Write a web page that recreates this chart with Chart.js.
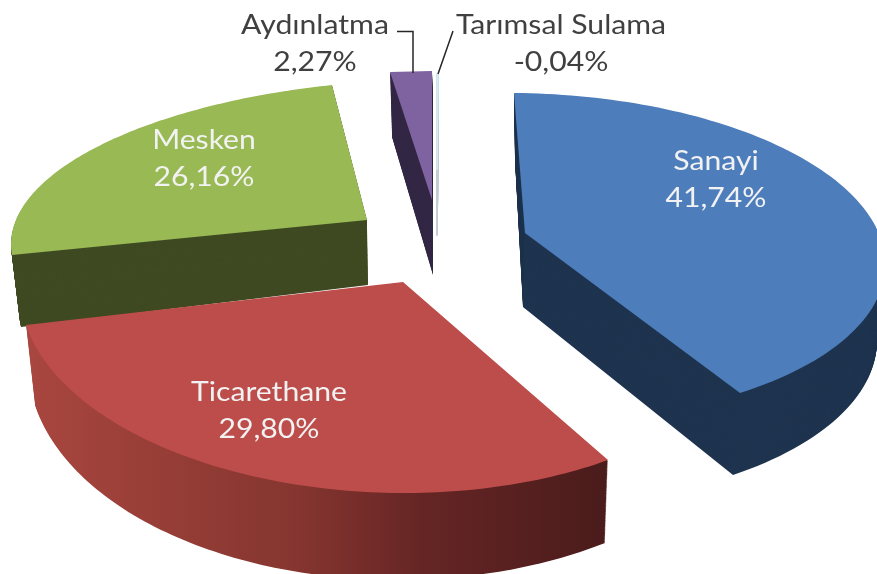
<!DOCTYPE html>
<html lang="tr">
<head>
    <meta charset="UTF-8" />
    <title>Elektrik tüketimi</title>
    <script src="https://cdn.jsdelivr.net/npm/chart.js"></script>
    <style>
        body { margin: 0; background: #ffffff; }
        canvas { display: block; filter: blur(0.5px); }
    </style>
</head>
<body>
<canvas id="grafik" width="877" height="574"></canvas>

<script>
    // veriler
    const kategoriler = ["Sanayi", "Ticarethane", "Mesken", "Aydınlatma", "Tarımsal Sulama"];
    const degerler = [41.74, 29.80, 26.16, 2.27, -0.04];

    // renkler
    const ustRenkler = ["#4d7ebb", "#bd4d4a", "#98b954", "#7f63a1", "#d4ecf6"];
    const yanRenkler = ["#1f344f", "#4a1c1b", "#3f4a22", "#332845", "#c6cdd2"];

    // 3B görünüm: her dilimin üst ve alt yüzü için [tepe, başlangıç, bitiş, orta] noktaları
    // ince dilimlerde orta nokta yok, üçgen olarak çiziliyor
    const ustYuz = [
        [[525, 233], [514, 93], [740, 393], [852, 195]],
        [[403, 282], [608, 460], [26, 325], [252, 476]],
        [[367, 220], [12, 255], [332, 85], [93, 149]],
        [[432, 200], [390, 72], [432, 71]],
        [[437, 170], [437, 74], [438, 74]]
    ];
    const altYuz = [
        [[523, 307], [515, 160], [733, 475], [846, 270]],
        [[403, 350], [605, 543], [35, 405], [254, 563]],
        [[368, 285], [21, 327], [335, 150], [98, 219]],
        [[433, 275], [392, 137], [433, 137]],
        [[437, 236], [437, 140], [438, 140]]
    ];
    const cizimSirasi = [2, 3, 4, 0, 1];

    // etiket konumları
    const etiketYerleri = [[716, 162], [269, 393], [204, 141], [315, 26], [561, 26]];
    const etiketRenkleri = ["#f2f2f2", "#f2f2f2", "#f2f2f2", "#404040", "#404040"];

    // doğrusal denklem çözümü (pivotlu Gauss)
    function coz(A, y) {
        const n = y.length;
        const M = A.map((s, i) => [...s, y[i]]);
        for (let i = 0; i < n; i++) {
            let p = i;
            for (let r = i + 1; r < n; r++) if (Math.abs(M[r][i]) > Math.abs(M[p][i])) p = r;
            [M[i], M[p]] = [M[p], M[i]];
            for (let r = 0; r < n; r++) {
                if (r === i) continue;
                const k = M[r][i] / M[i][i];
                for (let c = i; c <= n; c++) M[r][c] -= k * M[i][c];
            }
        }
        return M.map((s, i) => s[n] / s[i]);
    }

    // birim daireden ekrana perspektif dönüşümü: merkez tepeye, 3 açı kenar noktalarına gider
    function perspektif(nokta, acilar) {
        const [x0, y0] = nokta[0];
        const A = [], y = [];
        acilar.forEach((t, i) => {
            const u = Math.cos(t), v = Math.sin(t);
            const [px, py] = nokta[i + 1];
            A.push([u, v, 0, 0, -u * px, -v * px]); y.push(px - x0);
            A.push([0, 0, u, v, -u * py, -v * py]); y.push(py - y0);
        });
        const [a, b, d, e, g, h] = coz(A, y);
        return t => {
            const u = Math.cos(t), v = Math.sin(t);
            const w = g * u + h * v + 1;
            return [(a * u + b * v + x0) / w, (d * u + e * v + y0) / w];
        };
    }

    function dilimCiz(ctx, arc, nokta) {
        ctx.beginPath();
        ctx.moveTo(nokta[0][0], nokta[0][1]);
        if (nokta.length === 3) {
            ctx.lineTo(nokta[1][0], nokta[1][1]);
            ctx.lineTo(nokta[2][0], nokta[2][1]);
        } else {
            const s = arc.startAngle, e = arc.endAngle;
            const f = perspektif(nokta, [s, e, (s + e) / 2]);
            for (let k = 0; k <= 100; k++) {
                const p = f(s + (e - s) * k / 100);
                ctx.lineTo(p[0], p[1]);
            }
        }
        ctx.closePath();
    }

    const pasta3B = {
        id: "pasta3B",
        beforeDatasetsDraw(chart) {
            const ctx = chart.ctx;
            const arcs = chart.getDatasetMeta(0).data;

            // Ticarethane yan yüzü soldan sağa koyulaşıyor
            const gecis = ctx.createLinearGradient(30, 0, 605, 0);
            gecis.addColorStop(0, "#a8463f");
            gecis.addColorStop(0.47, "#85352f");
            gecis.addColorStop(0.68, "#662525");
            gecis.addColorStop(1, "#4a1c1b");

            ctx.save();
            cizimSirasi.forEach(i => {
                const arc = arcs[i];
                const adim = 90;
                ctx.fillStyle = i === 1 ? gecis : yanRenkler[i];
                ctx.strokeStyle = yanRenkler[i];
                ctx.lineWidth = 1.5;
                for (let k = adim; k > 0; k--) {
                    const ara = ustYuz[i].map((p, j) => [
                        p[0] + (altYuz[i][j][0] - p[0]) * k / adim,
                        p[1] + (altYuz[i][j][1] - p[1]) * k / adim
                    ]);
                    dilimCiz(ctx, arc, ara);
                    ctx.fill();
                    if (i === 4) ctx.stroke();
                }
                dilimCiz(ctx, arc, ustYuz[i]);
                ctx.fillStyle = ustRenkler[i];
                ctx.fill();
                if (i === 4) {
                    ctx.strokeStyle = ustRenkler[i];
                    ctx.stroke();
                }
            });
            ctx.restore();
            return false;
        },
        afterDraw(chart) {
            const ctx = chart.ctx;
            ctx.save();

            // kılavuz çizgileri
            ctx.strokeStyle = "#262626";
            ctx.lineWidth = 1.5;
            ctx.beginPath();
            ctx.moveTo(397, 31.5); ctx.lineTo(413, 31.5); ctx.lineTo(413, 73);
            ctx.moveTo(453, 31); ctx.lineTo(438, 74);
            ctx.stroke();

            // resim yatayda gerilmiş, yazılar da öyle
            ctx.font = "26px Lato";
            ctx.textAlign = "center";
            ctx.textBaseline = "middle";
            kategoriler.forEach((ad, i) => {
                const yuzde = degerler[i].toFixed(2).replace(".", ",") + "%";
                ctx.fillStyle = etiketRenkleri[i];
                ctx.setTransform(1.16, 0, 0, 1, etiketYerleri[i][0], etiketYerleri[i][1]);
                ctx.fillText(ad, 0, 0);
                ctx.fillText(yuzde, 0, 37);
            });
            ctx.restore();
        }
    };

    new Chart(document.getElementById("grafik"), {
        type: "pie",
        data: {
            labels: kategoriler,
            datasets: [{
                data: degerler,
                backgroundColor: ustRenkler,
                borderWidth: 0
            }]
        },
        options: {
            responsive: false,
            animation: false,
            events: [],
            plugins: {
                legend: { display: false },
                tooltip: { enabled: false }
            }
        },
        plugins: [pasta3B]
    });
</script>
</body>
</html>
